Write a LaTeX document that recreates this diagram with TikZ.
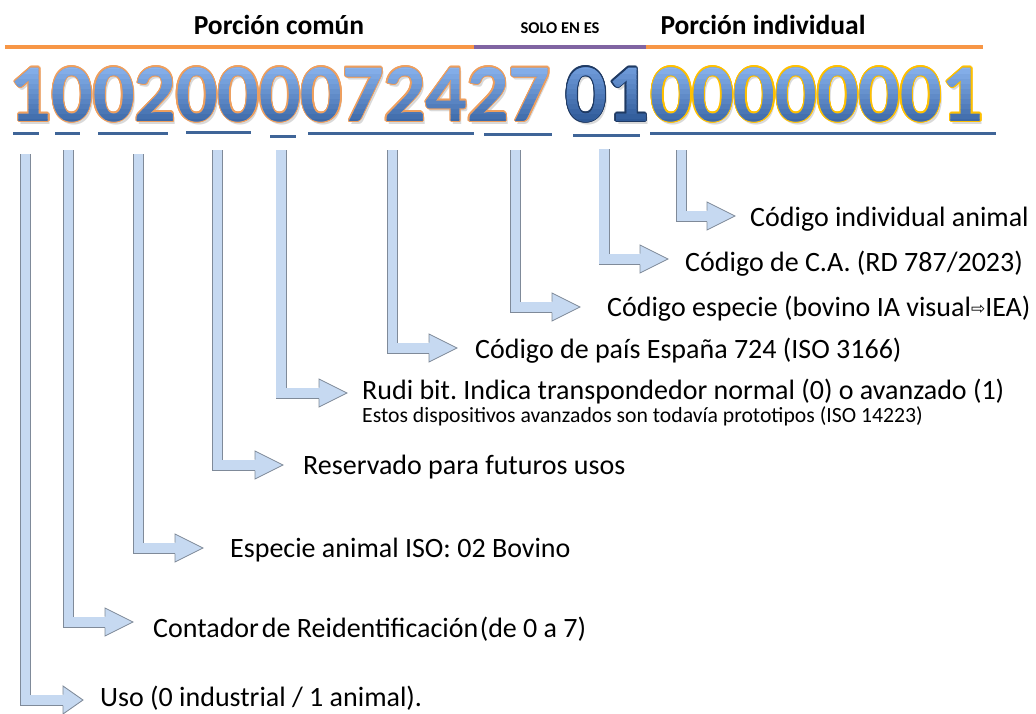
\documentclass[tikz,border=0pt]{standalone}
\usepackage{fontspec}
\setmainfont{Carlito}
\newfontfamily\symfont{DejaVu Sans}
\usepackage{xcolor}
\usepackage{contour}
\usepackage{tikz}
\usetikzlibrary{calc}
\contourlength{1.4pt}
\frenchspacing
\definecolor{orangeline}{HTML}{F79646}
\definecolor{purpleline}{HTML}{8064A2}
\definecolor{digitblue}{HTML}{5B8BD2}
\definecolor{digitdark}{HTML}{4B7BC2}
\definecolor{digittop}{HTML}{8AB4EE}
\definecolor{digitbottom}{HTML}{3D69A8}
\definecolor{darktop}{HTML}{729EDD}
\definecolor{darkbottom}{HTML}{2E5997}
\definecolor{rimorange}{HTML}{EE9F5E}
\definecolor{rimnavy}{HTML}{1F3A63}
\definecolor{rimgold}{HTML}{FFC000}
\definecolor{ulblue}{HTML}{3F6598}
\definecolor{arrowfill}{HTML}{C6D9F1}
\definecolor{arrowline}{HTML}{7F8A99}
\tikzset{
  header/.style   = {font=\bfseries\fontsize{27.5}{30}\selectfont, anchor=base, inner sep=0pt},
  onlyes/.style   = {font=\bfseries\fontsize{16.5}{18}\selectfont, anchor=base, inner sep=0pt},
  bar/.style      = {line width=4pt, orangeline},
  digits/.style   = {font=\bfseries\fontsize{82}{90}\selectfont, anchor=base, inner sep=0pt},
  digitshadow/.style = {digits, text=black, opacity=0.15},
  uline/.style    = {line width=3pt, ulblue},
  shaft/.style    = {draw=arrowline, line width=0.85pt, double=arrowfill,
                     double distance=9.3pt, line join=miter, line cap=rect},
  headfill/.style = {fill=arrowfill},
  headline/.style = {draw=arrowline, line width=0.85pt, line join=miter},
  desc/.style     = {font=\fontsize{28}{30}\selectfont, anchor=base west, inner sep=0pt},
  note/.style     = {font=\fontsize{21.7}{24}\selectfont, anchor=base west, inner sep=0pt},
}
\newcommand{\bentarrow}[3][28]{%
  \draw[shaft] (#2) |- ($(#3)+(-#1,0)$);
  \fill[headfill] ($(#3)+(-#1,-14)$) -- (#3) -- ($(#3)+(-#1,14)$) -- cycle;
  \draw[headline] ($(#3)+(-#1,-5.5)$) -- ++(0,-8.5) -- (#3) -- ($(#3)+(-#1,14)$) -- ++(0,-8.5);
}
% band-wise vertical gradient over a digit group
\newcommand{\graddigits}[4]{%
  \foreach \k in {0,...,11} {
    \pgfmathsetmacro{\mix}{100-\k*100/11}
    \begin{scope}
      \clip (0,{64+\k*5}) rectangle (1036,{64+(\k+1)*5});
      \node[digits, text=#3!\mix!#4] at (#1) {#2};
    \end{scope}
  }
}

\begin{document}
\begin{tikzpicture}[x=1pt,y=-1pt]
\useasboundingbox (0,0) rectangle (1036,713);
\node[header] (comun) at (279,34) {Porción común};
\node[onlyes] (soloes) at (560,33) {SOLO EN ES};
\node[header] (indiv) at (763,34) {Porción individual};
\draw[bar] (5,47) -- (474,47);
\draw[bar, purpleline] (474,47) -- (646,47);
\draw[bar] (646,47) -- (983,47);
\node[digitshadow] at (282,124) {1002000072427};
\node[digitshadow] at (609,124) {01};
\node[digitshadow] at (819,124) {00000001};
\node[digits, text=digitblue] (dcomun) at (280,121) {\contour{rimorange}{1002000072427}};
\node[digits, text=digitdark] (des) at (607,121) {\contour{rimnavy}{01}};
\node[digits, text=digitblue] (dindiv) at (817,121) {\contour{rimgold}{00000001}};
\graddigits{280,121}{1002000072427}{digittop}{digitbottom}
\graddigits{607,121}{01}{darktop}{darkbottom}
\graddigits{817,121}{00000001}{digittop}{digitbottom}
\draw[uline] (13,133) -- (39,133);
\draw[uline] (55,133) -- (80,133);
\draw[uline] (98,133) -- (168,133);
\draw[uline] (186,132) -- (251,132);
\draw[uline] (270,136) -- (296,136);
\draw[uline] (308,133) -- (474,133);
\draw[uline] (484,134) -- (552,134);
\draw[uline] (573,135) -- (640,135);
\draw[uline] (650,133) -- (996,133);
\node[desc] (uso) at (100,706) {Uso (0 industrial / 1 animal).};
\node[desc] (contador) at (153,637) {Contador\hspace{3pt}de Reidentificación\hspace{1.5pt}(de 0 a 7)};
\node[desc] (especie) at (230,557) {Especie animal ISO: 02 Bovino};
\node[desc] (reserva) at (303,474) {Reservado para futuros usos};
\node[desc] (rudi) at (362,399) {Rudi bit. Indica transpondedor normal (0) o avanzado (1)};
\node[note] (proto) at (362,422) {Estos dispositivos avanzados son todavía prototipos (ISO 14223)};
\node[desc] (pais) at (475,358) {Código de país España 724 (ISO 3166)};
\node[desc] (codesp) at (607,316) {Código especie (bovino IA visual\raisebox{2pt}{\symfont\fontsize{17}{17}\selectfont ⇨}IEA)};
\node[desc] (ca) at (685,271) {Código de C.A. (RD 787/2023)};
\node[desc] (animal) at (750,226) {Código individual animal};
\coordinate (s1) at (25.5,159);
\coordinate (s2) at (68.5,155);
\coordinate (s3) at (138.5,159);
\coordinate (s4) at (217.5,155);
\coordinate (s5) at (281,155);
\coordinate (s6) at (392.5,155);
\coordinate (s7) at (515.5,155);
\coordinate (s8) at (604,154);
\coordinate (s9) at (681.5,155);
\coordinate (t1) at (83,700);
\coordinate (t2) at (133,622);
\coordinate (t3) at (203,548);
\coordinate (t4) at (283,465);
\coordinate (t5) at (347,393);
\coordinate (t6) at (457,348);
\coordinate (t7) at (580,307);
\coordinate (t8) at (668,259);
\coordinate (t9) at (735,216);
\bentarrow[20]{s1}{t1}
\bentarrow{s2}{t2}
\bentarrow{s3}{t3}
\bentarrow{s4}{t4}
\bentarrow{s5}{t5}
\bentarrow{s6}{t6}
\bentarrow{s7}{t7}
\bentarrow{s8}{t8}
\bentarrow{s9}{t9}
\end{tikzpicture}
\end{document}
